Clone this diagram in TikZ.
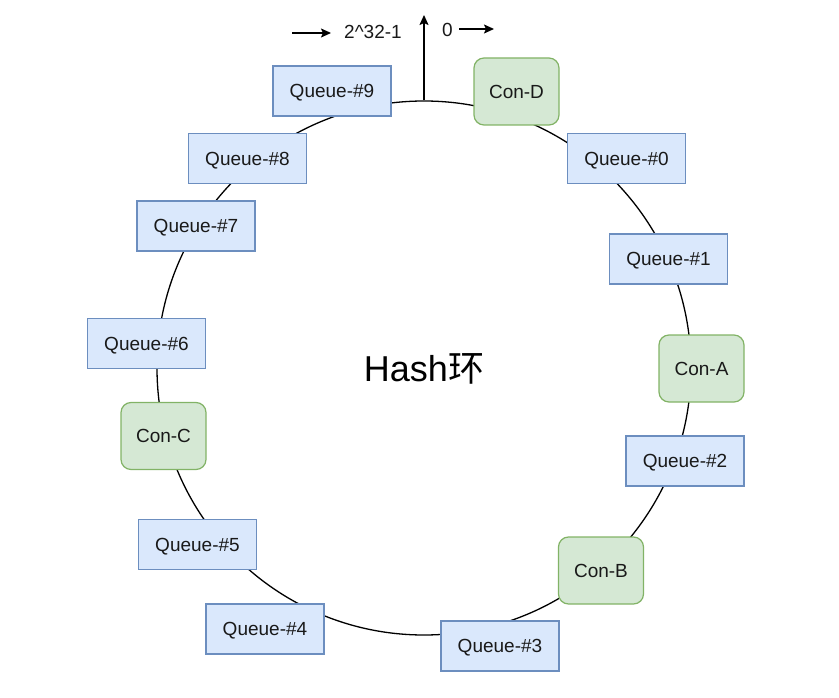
\documentclass[tikz,border=0pt]{standalone}
\usepackage{fontspec}
\setmainfont{Liberation Sans}
\newfontfamily\cjk{Noto Sans CJK SC}
\usetikzlibrary{arrows.meta}
\definecolor{qfill}{HTML}{DAE8FC}
\definecolor{qline}{HTML}{6C8EBF}
\definecolor{cfill}{HTML}{D5E8D4}
\definecolor{cline}{HTML}{82B366}
\tikzset{
  txt/.style={font=\fontsize{19}{23}\selectfont, text=black!90,
    text height=13.6pt, text depth=0pt},
  queue/.style={txt, draw=qline, fill=qfill, line width=1.2pt,
    minimum width=118pt, minimum height=50pt, inner sep=0pt},
  con/.style={txt, draw=cline, fill=cfill, line width=1.2pt, rounded corners=10pt,
    minimum width=85pt, minimum height=67pt, inner sep=0pt},
  tip/.style={line width=1.5pt, -{Stealth[length=10pt,width=9pt,inset=2pt]}}
}
\begin{document}
\begin{tikzpicture}[x=1pt,y=-1pt]
\useasboundingbox (0,0) rectangle (839,698);
% the hash ring with its title
\node[circle, draw, line width=1.3pt, minimum size=534pt, inner sep=0pt,
      font=\fontsize{36}{40}\selectfont, text height=26pt, text depth=0pt] (ring) at (424,368)
      {Hash{\cjk 环}};
% wrap-around marker at the top of the ring
\coordinate (up) at (424,15);
\draw[tip] (ring.north) -- (up);
\coordinate (inA) at (292,33);
\coordinate (inB) at (331,33);
\node[txt, inner sep=0pt] (maxlbl) at (373,32) {2\^{}32-1};
\draw[tip] (inA) -- (inB);
\node[txt, inner sep=0pt] (zerolbl) at (447.5,30) {0};
\coordinate (outA) at (459,29);
\coordinate (outB) at (494,29);
\draw[tip] (outA) -- (outB);
% queues placed on the ring
\node[queue] (q0) at (626.5,158.5) {Queue-\#0};
\node[queue] (q1) at (668.5,259) {Queue-\#1};
\node[queue] (q2) at (685,461) {Queue-\#2};
\node[queue] (q3) at (500,646) {Queue-\#3};
\node[queue] (q4) at (265,629) {Queue-\#4};
\node[queue] (q5) at (197.5,544.5) {Queue-\#5};
\node[queue] (q6) at (146.5,343.5) {Queue-\#6};
\node[queue] (q7) at (196,226) {Queue-\#7};
\node[queue] (q8) at (247.5,158.5) {Queue-\#8};
\node[queue] (q9) at (332,91) {Queue-\#9};
% consumers placed on the ring
\node[con] (ca) at (701.5,368.5) {Con-A};
\node[con] (cb) at (601,570.5) {Con-B};
\node[con] (cc) at (163.5,436) {Con-C};
\node[con] (cd) at (516.5,91.5) {Con-D};
\end{tikzpicture}
\end{document}
